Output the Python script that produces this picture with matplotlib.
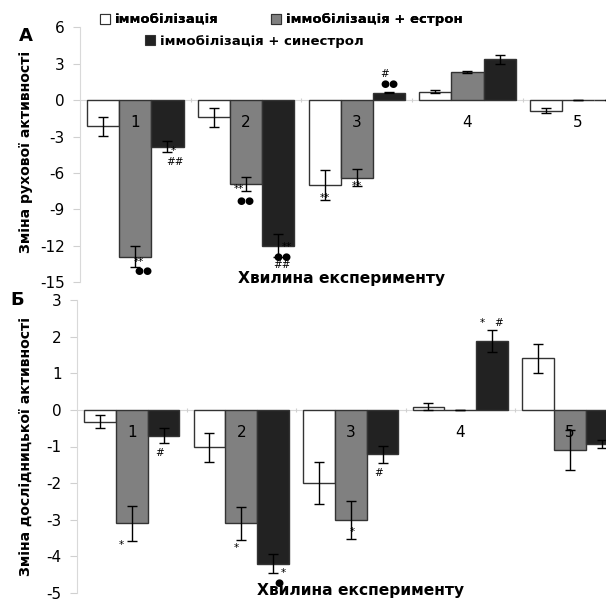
import numpy as np
import matplotlib
matplotlib.use("Agg")
import matplotlib.pyplot as plt
from matplotlib.patches import Patch

plt.rcParams['font.family'] = ['DejaVu Sans']
plt.rcParams['axes.unicode_minus'] = False

groups = ["1", "2", "3", "4", "5"]
series_names = ["іммобілізація", "іммобілізація + естрон", "іммобілізація + синестрол"]
colors = ["#ffffff", "#808080", "#222222"]

# panel A - motor activity
a_white = [-2.15, -1.43, -7.0, 0.69, -0.88]
a_white_err = [0.8, 0.82, 1.2, 0.12, 0.22]
a_gray = [-12.9, -6.9, -6.4, 2.34, 0.0]
a_gray_err = [0.9, 0.6, 0.7, 0.1, 0.0]
a_black = [-3.86, -12.0, 0.63, 3.36, 0.0]
a_black_err = [0.45, 0.95, 0.08, 0.4, 0.0]
a_ticks = [-15, -12, -9, -6, -3, 0, 3, 6]

# panel B - exploratory activity
b_white = [-0.32, -1.02, -2.0, 0.09, 1.41]
b_white_err = [0.18, 0.4, 0.57, 0.1, 0.4]
b_gray = [-3.1, -3.1, -3.0, 0.0, -1.1]
b_gray_err = [0.47, 0.45, 0.52, 0.0, 0.55]
b_black = [-0.7, -4.2, -1.21, 1.89, -0.93]
b_black_err = [0.2, 0.26, 0.23, 0.3, 0.12]
b_ticks = [-5, -4, -3, -2, -1, 0, 1, 2, 3]

# significance marks: (group, series, text, dx px, dy px) relative to error bar end
a_marks = [(0, 1, "**", 4, 5), (0, 1, "●●", 8, -4),
           (0, 2, "*", 6, 1), (0, 2, "##", 8, -10),
           (1, 1, "**", -7, 2), (1, 1, "●●", -1, -10),
           (1, 2, "**", 9, 10), (1, 2, "●●", 4, 0), (1, 2, "##", 4, -8),
           (2, 0, "**", 0, 2), (2, 1, "**", 0, 0),
           (2, 2, "#", -4, 18), (2, 2, "●●", 1, 8)]
b_marks = [(0, 1, "*", -10, -4), (0, 2, "#", -4, -10),
           (1, 1, "*", -5, -8), (1, 2, "*", 10, 0), (1, 2, "●", 6, -10),
           (2, 1, "*", 2, 7), (2, 2, "#", -4, -10),
           (3, 2, "*", -10, 7), (3, 2, "#", 7, 7)]

W, H = 606, 601
fig = plt.figure(figsize=(W / 100, H / 100), dpi=100)

def px_axes(left, top, right, bottom):
    return fig.add_axes([left / W, 1 - bottom / H, (right - left) / W, (bottom - top) / H])

bw = 0.29
x = np.arange(len(groups))

def draw(ax, vals, errs, ticks, marks):
    for s, (v, e) in enumerate(zip(vals, errs)):
        pos = x + (s - 1) * bw
        ax.bar(pos, v, bw, color=colors[s], edgecolor="#333333", linewidth=1.0, zorder=2)
        ax.errorbar(pos, v, yerr=e, fmt="none", ecolor="black", elinewidth=1.0,
                    capsize=3.6, capthick=1.0, zorder=3)
    ax.set_xlim(-0.5, len(groups) - 0.5)
    ax.set_ylim(ticks[0], ticks[-1])
    ax.set_yticks(ticks)
    ax.set_yticklabels([str(t) for t in ticks], fontsize=11)
    ax.tick_params(axis="y", length=5, width=0.8, color="#d0d0d0", pad=6)
    ax.set_xticks(x[:-1] + 0.5)
    ax.set_xticklabels([])
    ax.tick_params(axis="x", length=3, width=0.8, color="#d0d0d0", direction="inout")
    for sp in ["top", "right"]:
        ax.spines[sp].set_visible(False)
    ax.spines["left"].set_color("#d9d9d9")
    ax.spines["bottom"].set_color("#d9d9d9")
    ax.spines["bottom"].set_position(("data", 0))
    ax.spines["bottom"].set_zorder(1)
    for g, lab in enumerate(groups):
        ax.annotate(lab, (x[g], 0), xytext=(0, -16), textcoords="offset points",
                    ha="center", va="center", fontsize=11, zorder=5)
    for g, s, txt, dx, dy in marks:
        v = vals[s][g]
        e = errs[s][g]
        end = v - e if v < 0 else v + e
        ax.annotate(txt, (x[g] + (s - 1) * bw, end), xytext=(dx * 0.72, dy * 0.72),
                    textcoords="offset points", ha="center", va="center",
                    fontsize=7.5, zorder=6)

axA = px_axes(80, 27.4, 80 + 110.7 * 5, 282)
draw(axA, [a_white, a_gray, a_black], [a_white_err, a_gray_err, a_black_err], a_ticks, a_marks)
axB = px_axes(77, 300, 77 + 109.5 * 5, 593)
draw(axB, [b_white, b_gray, b_black], [b_white_err, b_gray_err, b_black_err], b_ticks, b_marks)

fig.text(26 / W, 1 - 36 / H, "А", fontsize=13, fontweight="bold", ha="center", va="center")
fig.text(17 / W, 1 - 300 / H, "Б", fontsize=13, fontweight="bold", ha="center", va="center")
fig.text(26 / W, 1 - 152 / H, "Зміна рухової активності", rotation=90, fontsize=10.1,
         fontweight="bold", ha="center", va="center")
fig.text(26 / W, 1 - 447 / H, "Зміна дослідницької активності", rotation=90, fontsize=10.1,
         fontweight="bold", ha="center", va="center")
fig.text(342 / W, 1 - 279 / H, "Хвилина експерименту", fontsize=11.2, fontweight="bold",
         ha="center", va="center")
fig.text(361 / W, 1 - 591 / H, "Хвилина експерименту", fontsize=11.2, fontweight="bold",
         ha="center", va="center")

handles = [Patch(facecolor=c, edgecolor="#333333", linewidth=0.8) for c in colors]
leg1 = fig.legend(handles[:2], series_names[:2], loc="center left",
                  bbox_to_anchor=(100 / W, 1 - 20 / H), ncol=2, frameon=False,
                  prop={"weight": "bold", "size": 9.5}, handlelength=0.75, handleheight=0.75,
                  handletextpad=0.35, columnspacing=4.0, borderaxespad=0, borderpad=0)
fig.legend(handles[2:], series_names[2:], loc="center left",
           bbox_to_anchor=(145 / W, 1 - 41 / H), frameon=False,
           prop={"weight": "bold", "size": 9.5}, handlelength=0.75, handleheight=0.75,
           handletextpad=0.35, borderaxespad=0, borderpad=0)
fig.add_artist(leg1)

fig.savefig("out.png", dpi=100)
